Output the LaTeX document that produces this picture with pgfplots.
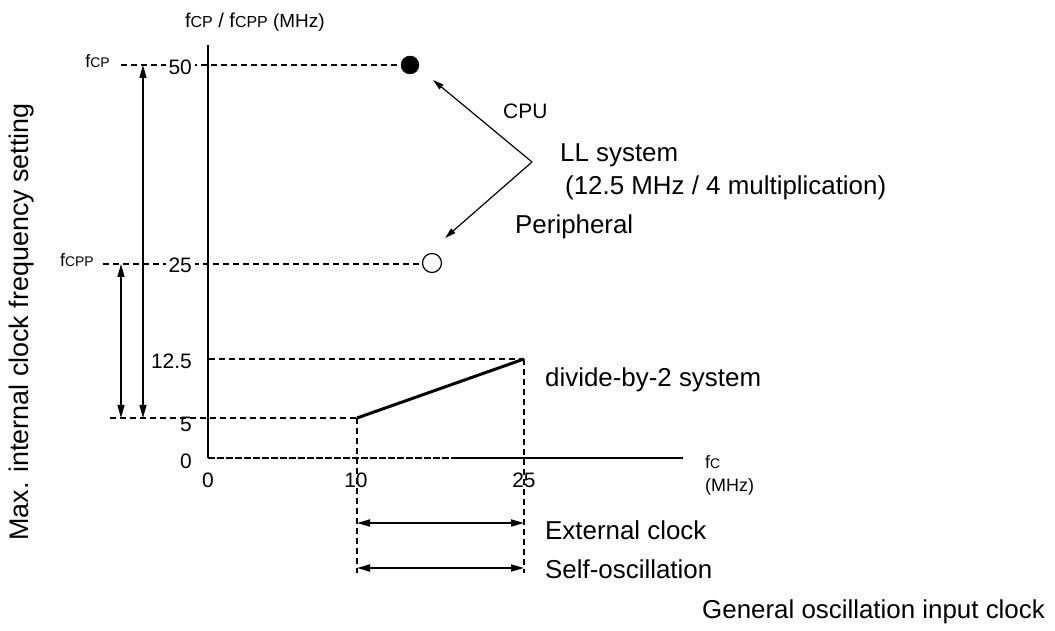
\documentclass[border=0pt]{standalone}
\usepackage{fontspec}
\setmainfont{Liberation Sans}
\usepackage{pgfplots}
\pgfplotsset{compat=1.18}
\usetikzlibrary{arrows.meta}

\newcommand{\fs}[1]{\fontsize{#1}{#1}\selectfont}

\begin{document}
\begin{tikzpicture}[
  tri/.style={-{Triangle[length=13bp,width=7bp]}},
  both/.style={{Triangle[length=13bp,width=7bp]}-{Triangle[length=13bp,width=7bp]}},
  dsh/.style={line width=1.1bp, dash pattern=on 6bp off 4bp},
  lbl/.style={inner sep=0pt, font=\fs{26}},
]
\begin{axis}[
  x=1bp, y=1bp,
  xmin=0, xmax=475, ymin=0, ymax=413,
  hide axis, clip=false,
]
% schematic (not to scale) positions:
% x: 0 -> 0, 10 MHz -> 149, 25 MHz -> 316
% y: 0 -> 0, 5 -> 40, 12.5 -> 99, 25 -> 194, 50 -> 393

% guide lines
\addplot[black, dsh] coordinates {(-87,393) (195,393)};
\addplot[black, dsh] coordinates {(-105,194) (215,194)};
\addplot[black, dsh] coordinates {(1,99) (316,99)};
\addplot[black, dsh] coordinates {(-98,40) (149,40)};
\addplot[black, dsh] coordinates {(149,40) (149,-115)};
\addplot[black, dsh] coordinates {(316,99) (316,-115)};

% axes
\draw[line width=1.3bp] (axis cs:0,0) -- (axis cs:0,413);
\draw[line width=1.3bp, dash pattern=on 7bp off 2bp] (axis cs:0,0) -- (axis cs:247,0);
\draw[line width=1.3bp] (axis cs:247,0) -- (axis cs:475,0);

% divide-by-2 system
\addplot[black, line width=3bp] coordinates {(149,40) (316,99)};

% LL system points
\addplot[only marks, mark=*, mark size=9bp, black] coordinates {(202,393)};
\addplot[only marks, mark=*, mark size=9.5bp, mark options={draw=black, fill=white, line width=1.2bp}] coordinates {(224,195)};

% tick labels
\node[inner sep=0pt, fill=white, inner xsep=3bp, anchor=east, font=\fs{21}] at (axis cs:-13,391) {50};
\node[inner sep=0pt, fill=white, inner xsep=3bp, anchor=east, font=\fs{21}] at (axis cs:-13,193) {25};
\node[inner sep=0pt, anchor=east, font=\fs{21}] at (axis cs:-16,97) {12.5};
\node[inner sep=0pt, anchor=east, font=\fs{21}] at (axis cs:-16,34) {5};
\node[inner sep=0pt, anchor=east, font=\fs{21}] at (axis cs:-16,-3) {0};
\node[inner sep=0pt, font=\fs{21}] at (axis cs:0,-22) {0};
\node[inner sep=0pt, font=\fs{21}] at (axis cs:148,-22) {10};
\node[inner sep=0pt, font=\fs{21}] at (axis cs:316,-22) {25};

% axis names
\node[inner sep=0pt, anchor=west] at (axis cs:-23,436) {\fs{20}f\fs{16}CP\fs{20} / f\fs{16}CPP\fs{19} (MHz)};
\node[inner sep=0pt, anchor=east] at (axis cs:-98,397) {\fs{18}f\fs{14}CP};
\node[inner sep=0pt, anchor=east] at (axis cs:-114,198) {\fs{18}f\fs{14}CPP};
\node[inner sep=0pt, anchor=west] at (axis cs:497,-4) {\fs{18}f\fs{14}C};
\node[inner sep=0pt, anchor=west, font=\fs{18}] at (axis cs:497,-29) {(MHz)};
\node[lbl, rotate=90, font=\fs{27}] at (axis cs:-186,136) {Max. internal clock frequency setting};

% range arrows
\draw[both, line width=1.2bp] (axis cs:-65,393) -- (axis cs:-65,40);
\draw[both, line width=1.2bp] (axis cs:-87,194) -- (axis cs:-87,40);
\draw[both, line width=1.8bp] (axis cs:149,-65) -- (axis cs:316,-65);
\draw[both, line width=1.8bp] (axis cs:149,-110) -- (axis cs:316,-110);

% LL system annotation
\draw[line width=1.2bp, -{Triangle[length=11bp,width=6bp]}] (axis cs:324,296) -- (axis cs:225,378);
\draw[line width=1.2bp, -{Triangle[length=11bp,width=6bp]}] (axis cs:324,296) -- (axis cs:237,220);
\node[inner sep=0pt, anchor=west, font=\fs{21}] at (axis cs:295,347) {CPU};
\node[lbl, anchor=west] at (axis cs:352,303) {LL system};
\node[lbl, anchor=west] at (axis cs:357,270) {(12.5 MHz / 4 multiplication)};
\node[lbl, anchor=west] at (axis cs:307,231) {Peripheral};

\node[lbl, anchor=west] at (axis cs:337,78) {divide-by-2 system};
\node[lbl, anchor=west] at (axis cs:337,-72) {External clock};
\node[lbl, anchor=west] at (axis cs:337,-111) {Self-oscillation};
\node[lbl, anchor=west] at (axis cs:494,-154) {General oscillation input clock};

\coordinate (bl) at (axis cs:-208,-173);
\coordinate (tr) at (axis cs:847,458);
\end{axis}
\path (bl) rectangle (tr);
\end{tikzpicture}
\end{document}
